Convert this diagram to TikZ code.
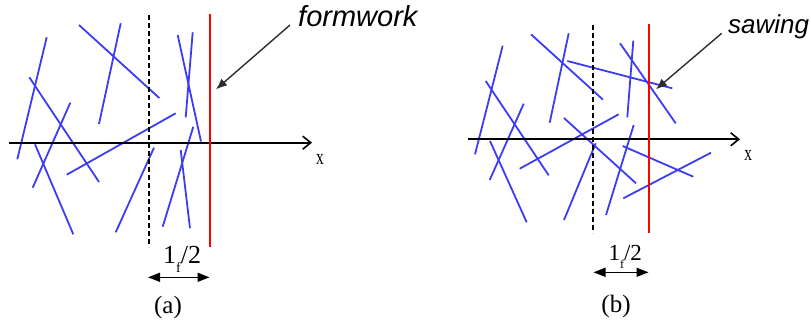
\documentclass[tikz,border=0pt]{standalone}
\usepackage{fontspec}
\setmainfont{Liberation Serif}
\newfontfamily\labelsans{Liberation Sans}
\usetikzlibrary{arrows.meta}
\definecolor{fiber}{RGB}{60,60,245}
\definecolor{leader}{RGB}{45,45,45}
\tikzset{
  fib/.style={draw=fiber,line width=1.8pt},
  axisline/.style={draw=black,line width=2pt,-{Straight Barb[length=8pt,width=13pt,line width=1.6pt]}},
  halfline/.style={draw=black,line width=2pt,dash pattern=on 5pt off 3pt},
  wall/.style={draw=red,line width=2.2pt},
  leaderarrow/.style={draw=leader,line width=1.4pt,-{Latex[length=11pt,width=9pt]}},
  dimarrow/.style={draw=black,line width=1.5pt,{Triangle[length=12pt,width=9pt]}-{Triangle[length=12pt,width=9pt]}},
  callout/.style={inner sep=0pt,anchor=base west,font=\labelsans\itshape},
  caption/.style={inner sep=0pt,font=\fontsize{25}{25}\selectfont},
  axislabel/.style={inner sep=0pt,font=\fontsize{22}{22}\selectfont}
}
\begin{document}
\begin{tikzpicture}[x=1pt,y=-1pt]
\useasboundingbox (0,0) rectangle (811,324);
% ---------- panel (a) ----------
\draw[fib] (46.7,37.3)--(17.3,159.3);
\draw[fib] (29.3,77.3)--(99,182);
\draw[fib] (70.3,102.7)--(32.7,187.7);
\draw[fib] (35,144.3)--(73.3,234.3);
\draw[fib] (79,25)--(159.3,98);
\draw[fib] (120.7,23.3)--(99,124);
\draw[fib] (175.7,113.3)--(66.7,174.7);
\draw[fib] (177.7,35)--(201,141.5);
\draw[fib] (192.7,32.3)--(185.7,117.3);
\draw[fib] (154,147.7)--(115.7,232.3);
\draw[fib] (193.3,126.7)--(162.7,226.7);
\draw[fib] (180.7,150)--(190,228.3);
\coordinate (a0) at (9,142.7);
\coordinate (a1) at (312,142.7);
\draw[axisline] (a0) -- (a1);
\node[axislabel] (ax) at (320,159.5) {\scalebox{0.7}[1]{x}};
\coordinate (ad0) at (149,15);
\coordinate (ad1) at (149,247);
\draw[halfline] (ad0) -- (ad1);
\coordinate (ar0) at (210,14);
\coordinate (ar1) at (210,247);
\draw[wall] (ar0) -- (ar1);
\node[callout,font=\labelsans\itshape\fontsize{29}{29}\selectfont] (formwork) at (298,27) {formwork};
\coordinate (atip) at (216,89.3);
\draw[leaderarrow] (290,25) -- (atip);
\node[inner sep=0pt,anchor=base west,font=\fontsize{26}{26}\selectfont] (alen) at (163,263)
  {1\raisebox{-9pt}{\fontsize{14}{14}\selectfont f}/2};
\coordinate (am0) at (148,277.3);
\coordinate (am1) at (209.5,277.3);
\draw[dimarrow] (am0) -- (am1);
\node[caption] (capa) at (168,307) {(a)};
% ---------- panel (b) ----------
\draw[fib] (502.7,45.7)--(475,154.3);
\draw[fib] (485.7,81)--(548.7,175.3);
\draw[fib] (523.7,103.7)--(489.7,180);
\draw[fib] (490,141)--(526.7,222.3);
\draw[fib] (531,34.3)--(603,99.7);
\draw[fib] (568.7,33.3)--(549.7,122.7);
\draw[fib] (567.3,61)--(672.3,88.3);
\draw[fib] (564,118)--(636,183.3);
\draw[fib] (618.7,114.3)--(519.7,168.7);
\draw[fib] (620,43.3)--(675.7,123.3);
\draw[fib] (633.3,40.7)--(627.3,117.3);
\draw[fib] (595.7,143.3)--(564,220);
\draw[fib] (633.7,125)--(606,215);
\draw[fib] (622.7,146)--(693.3,176.7);
\draw[fib] (711,152.7)--(623.3,198.3);
\coordinate (b0) at (468.3,139.3);
\coordinate (b1) at (740,139.3);
\draw[axisline] (b0) -- (b1);
\node[axislabel] (bx) at (748.3,155.5) {\scalebox{0.7}[1]{x}};
\coordinate (bd0) at (593.3,25);
\coordinate (bd1) at (593.3,233);
\draw[halfline] (bd0) -- (bd1);
\coordinate (br0) at (648.7,24);
\coordinate (br1) at (648.7,233);
\draw[wall] (br0) -- (br1);
\node[callout,font=\labelsans\itshape\fontsize{26}{26}\selectfont] (sawing) at (728,33) {sawing};
\coordinate (btip) at (656,89.3);
\draw[leaderarrow] (721.7,33.3) -- (btip);
\node[inner sep=0pt,anchor=base west,font=\fontsize{23}{23}\selectfont] (blen) at (608.3,260)
  {1\raisebox{-8pt}{\fontsize{12}{12}\selectfont f}/2};
\coordinate (bm0) at (593.5,272.3);
\coordinate (bm1) at (648.5,272.3);
\draw[dimarrow] (bm0) -- (bm1);
\node[caption] (capb) at (616,306.7) {(b)};
\end{tikzpicture}
\end{document}
